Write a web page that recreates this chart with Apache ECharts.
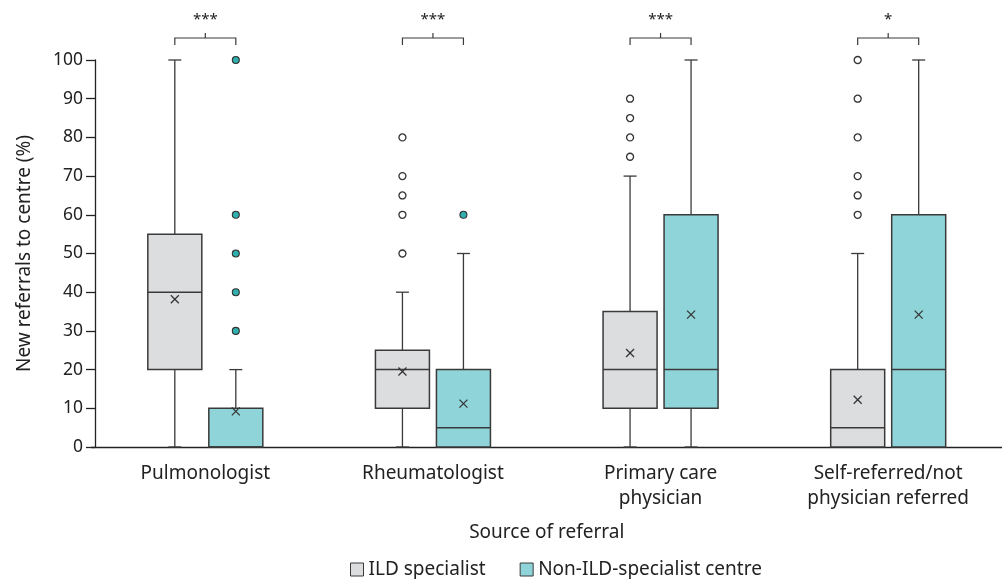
<!DOCTYPE html>
<html>
<head>
<meta charset="utf-8">
<script src="https://cdn.jsdelivr.net/npm/echarts@6/dist/echarts.min.js"></script>
<style>
  html, body { margin: 0; padding: 0; background: #fff; }
  #chart { width: 1002px; height: 579px; }
</style>
</head>
<body>
<div id="chart"></div>
<script>
// Referral sources on the category axis
const categories = ['Pulmonologist', 'Rheumatologist', 'Primary care\nphysician', 'Self-referred/not\nphysician referred'];
const groupNames = ['ILD specialist', 'Non-ILD-specialist centre'];

// Box statistics per source: [min, Q1, median, Q3, max, mean]
const ildStats = [
  [0, 20, 40, 55, 100, 38.2],
  [0, 10, 20, 25, 40, 19.5],
  [0, 10, 20, 35, 70, 24.3],
  [0, 0, 5, 20, 50, 12.2]
];
const nonIldStats = [
  [0, 0, 0, 10, 20, 9.2],
  [0, 0, 5, 20, 50, 11.2],
  [0, 10, 20, 60, 100, 34.2],
  [0, 0, 20, 60, 100, 34.2]
];

// Outlying values per source
const ildOutliers = [[], [80, 70, 65, 60, 50], [90, 85, 80, 75], [100, 90, 80, 70, 65, 60]];
const nonIldOutliers = [[100, 60, 50, 40, 30], [60], [], []];

// Significance of the between-group difference per source
const significance = ['***', '***', '***', '*'];

// Y-axis ticks
const yTicks = [0, 10, 20, 30, 40, 50, 60, 70, 80, 90, 100];

const FONT = '"Noto Sans", sans-serif';
const TEXT = '#222';
const STROKE = '#3a3a3a';
const ILD_FILL = '#dcdddf';
const NON_FILL = '#8fd4d8';
const OUT_FILL = '#2fb0ae';
const WORD_SIZE = 19;
const SHIFT = 30.5;    // px offset of each box from the category centre
const BOX_W = 54;
const CAP_W = 13;

function boxSeriesData(stats) {
  return stats.map((s, i) => [i].concat(s));
}

function makeBoxRender(sign, fill) {
  return function (params, api) {
    const cat = api.value(0);
    const v = [1, 2, 3, 4, 5, 6].map(d => api.value(d));
    const [mn, q1, med, q3, mx, mean] = v;
    const cx = api.coord([cat, 0])[0] + sign * SHIFT;
    const y = val => api.coord([cat, val])[1];
    const lineStyle = { stroke: STROKE, lineWidth: 1.3 };
    const children = [];
    if (mx > q3) {
      children.push({ type: 'line', shape: { x1: cx, y1: y(q3), x2: cx, y2: y(mx) }, style: lineStyle });
      children.push({ type: 'line', shape: { x1: cx - CAP_W / 2, y1: y(mx), x2: cx + CAP_W / 2, y2: y(mx) }, style: lineStyle });
    }
    if (mn < q1) {
      children.push({ type: 'line', shape: { x1: cx, y1: y(q1), x2: cx, y2: y(mn) }, style: lineStyle });
      children.push({ type: 'line', shape: { x1: cx - CAP_W / 2, y1: y(mn), x2: cx + CAP_W / 2, y2: y(mn) }, style: lineStyle });
    }
    children.push({
      type: 'rect',
      shape: { x: cx - BOX_W / 2, y: y(q3), width: BOX_W, height: y(q1) - y(q3) },
      style: { fill: fill, stroke: STROKE, lineWidth: 1.5 }
    });
    children.push({ type: 'line', shape: { x1: cx - BOX_W / 2, y1: y(med), x2: cx + BOX_W / 2, y2: y(med) }, style: { stroke: STROKE, lineWidth: 1.5 } });
    const ym = y(mean), r = 4;
    children.push({ type: 'line', shape: { x1: cx - r, y1: ym - r, x2: cx + r, y2: ym + r }, style: { stroke: '#333', lineWidth: 1.3 } });
    children.push({ type: 'line', shape: { x1: cx - r, y1: ym + r, x2: cx + r, y2: ym - r }, style: { stroke: '#333', lineWidth: 1.3 } });
    return { type: 'group', children: children };
  };
}

function outlierData(list) {
  const out = [];
  list.forEach((vals, i) => vals.forEach(v => out.push([i, v])));
  return out;
}

function bracketRender(params, api) {
  const cat = api.value(0);
  const c = api.coord([cat, 100]);
  const cx = c[0];
  const top = c[1];
  const yl = top - 22, x1 = cx - SHIFT, x2 = cx + SHIFT;
  const st = { stroke: STROKE, lineWidth: 1.2 };
  return {
    type: 'group',
    children: [
      { type: 'polyline', shape: { points: [[x1, yl + 7], [x1, yl], [x2, yl], [x2, yl + 7]] }, style: Object.assign({ fill: 'none' }, st) },
      { type: 'line', shape: { x1: cx, y1: yl, x2: cx, y2: yl - 5 }, style: st },
      { type: 'text', style: { text: significance[params.dataIndex], x: cx, y: yl - 18, textAlign: 'center', textVerticalAlign: 'middle', fill: TEXT, font: '15px ' + FONT } }
    ]
  };
}

const chart = echarts.init(document.getElementById('chart'), null, { renderer: 'canvas' });
chart.setOption({
  animation: false,
  backgroundColor: '#fff',
  textStyle: { fontFamily: FONT, color: TEXT },
  grid: { left: 91.5, width: 922, top: 60, bottom: 132, containLabel: false },
  legend: {
    bottom: 0,
    padding: 0,
    left: 350,
    itemWidth: 13,
    itemHeight: 13,
    itemGap: 34,
    icon: 'rect',
    textStyle: { fontSize: WORD_SIZE, color: TEXT, fontFamily: FONT },
    data: [
      { name: groupNames[0], itemStyle: { color: ILD_FILL, borderColor: STROKE, borderWidth: 1 } },
      { name: groupNames[1], itemStyle: { color: NON_FILL, borderColor: STROKE, borderWidth: 1 } }
    ]
  },
  xAxis: {
    type: 'category',
    data: categories,
    name: 'Source of referral',
    nameLocation: 'middle',
    nameGap: 76,
    nameTextStyle: { fontSize: WORD_SIZE, color: TEXT, fontFamily: FONT },
    axisLine: { lineStyle: { color: '#222', width: 1.3 } },
    axisTick: { alignWithLabel: true, length: 6, lineStyle: { color: '#222', width: 1.3 } },
    axisLabel: { interval: 0, fontSize: WORD_SIZE, lineHeight: 25, color: TEXT, margin: 14 },
    splitLine: { show: false }
  },
  yAxis: {
    type: 'value',
    min: yTicks[0],
    max: yTicks[yTicks.length - 1],
    interval: yTicks[1] - yTicks[0],
    offset: -3.5,
    name: 'New referrals to centre (%)',
    nameLocation: 'middle',
    nameGap: 61,
    nameTextStyle: { fontSize: WORD_SIZE, color: TEXT, fontFamily: FONT },
    axisLine: { show: true, lineStyle: { color: '#222', width: 1.3 } },
    axisTick: { show: true, length: 9, lineStyle: { color: '#222', width: 1.3 } },
    axisLabel: { fontSize: 17.5, color: TEXT, margin: 12 },
    splitLine: { show: false }
  },
  series: [
    {
      name: groupNames[0],
      type: 'custom',
      itemStyle: { color: ILD_FILL },
      encode: { x: 0, y: [1, 2, 3, 4, 5] },
      renderItem: makeBoxRender(-1, ILD_FILL),
      data: boxSeriesData(ildStats),
      z: 2
    },
    {
      name: groupNames[1],
      type: 'custom',
      itemStyle: { color: NON_FILL },
      encode: { x: 0, y: [1, 2, 3, 4, 5] },
      renderItem: makeBoxRender(1, NON_FILL),
      data: boxSeriesData(nonIldStats),
      z: 2
    },
    {
      name: groupNames[0],
      type: 'scatter',
      symbol: 'circle',
      symbolSize: 7,
      symbolOffset: [-SHIFT, 0],
      itemStyle: { color: '#fff', borderColor: '#333', borderWidth: 1.3, opacity: 1 },
      data: outlierData(ildOutliers),
      z: 3
    },
    {
      name: groupNames[1],
      type: 'scatter',
      symbol: 'circle',
      symbolSize: 7,
      symbolOffset: [SHIFT, 0],
      itemStyle: { color: OUT_FILL, borderColor: '#333', borderWidth: 1.1, opacity: 1 },
      data: outlierData(nonIldOutliers),
      z: 3
    },
    {
      type: 'custom',
      clip: false,
      renderItem: bracketRender,
      data: significance.map((s, i) => [i, 100]),
      z: 4
    }
  ]
});
</script>
</body>
</html>
